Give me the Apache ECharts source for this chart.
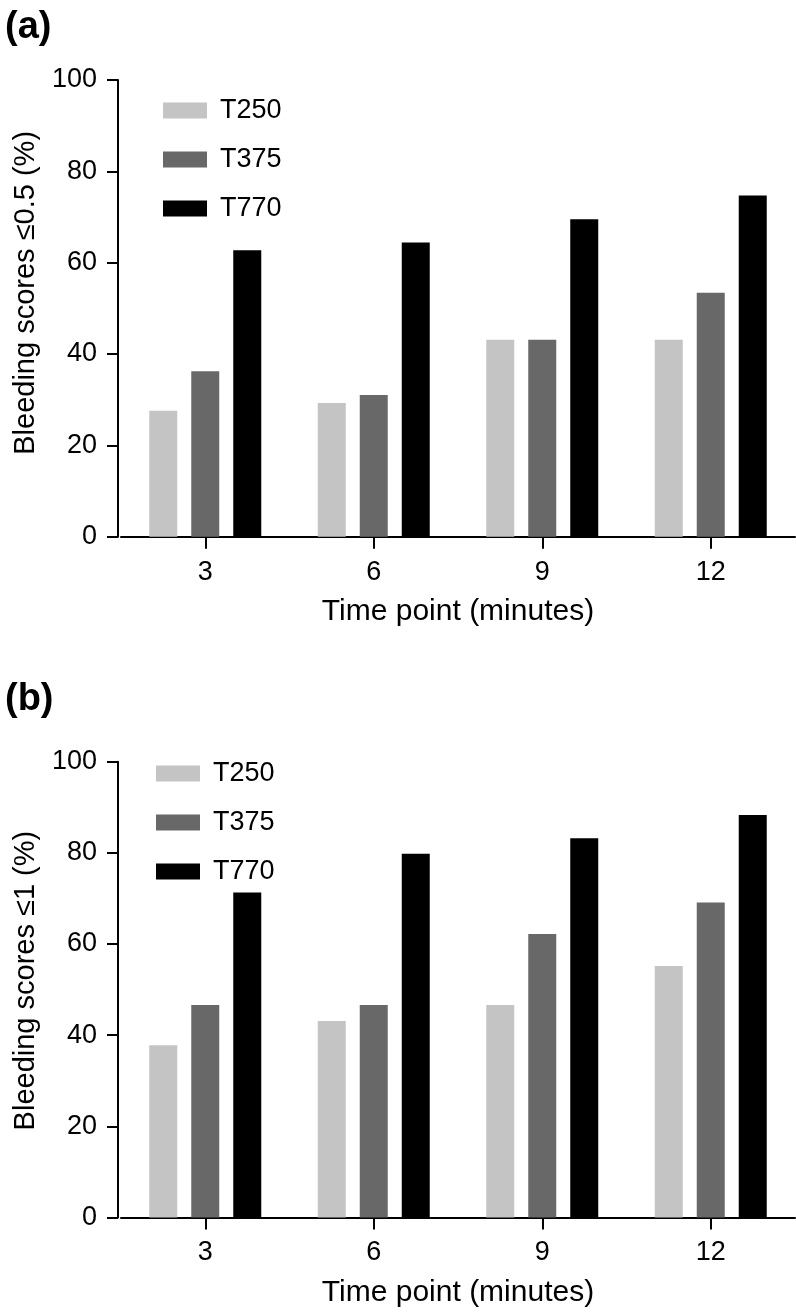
<!DOCTYPE html>
<html>
<head>
<meta charset="utf-8">
<script src="https://cdn.jsdelivr.net/npm/echarts@6/dist/echarts.min.js"></script>
<style>
  html, body { margin: 0; padding: 0; background: #fff; }
  #chart { width: 796px; height: 1316px; }
</style>
</head>
<body>
<div id="chart"></div>
<script>
// ---- data ----
const categories = ['3', '6', '9', '12'];
const seriesNames = ['T250', 'T375', 'T770'];
const seriesColors = ['#c4c4c4', '#686868', '#000000'];
const yTicks = { min: 0, max: 100, interval: 20 };

const panelA_T250 = [27.6, 29.3, 43.1, 43.1];
const panelA_T375 = [36.2, 31.0, 43.1, 53.4];
const panelA_T770 = [62.7, 64.4, 69.5, 74.7];

const panelB_T250 = [37.8, 43.1, 46.6, 55.2];
const panelB_T375 = [46.6, 46.6, 62.2, 69.1];
const panelB_T770 = [71.3, 79.8, 83.2, 88.3];

const panelLabels = ['(a)', '(b)'];
const yNames = ['Bleeding scores \u22640.5 (%)', 'Bleeding scores \u22641 (%)'];
const xName = 'Time point (minutes)';

// ---- chart ----
const FONT = "'Liberation Sans', Arial, Helvetica, sans-serif";
const chart = echarts.init(document.getElementById('chart'), null, { renderer: 'canvas' });

const grids = [
  { left: 121, width: 674, top: 80, height: 456.7 },
  { left: 121, width: 674, top: 761.7, height: 455.8 }
];

function xAxisFor(i) {
  return {
    type: 'category', gridIndex: i, data: categories,
    boundaryGap: true,
    axisLine: { show: true, lineStyle: { color: '#000', width: 2 } },
    axisTick: { show: true, alignWithLabel: true, length: 12, lineStyle: { color: '#000', width: 2 } },
    axisLabel: { color: '#000', fontSize: 27, fontFamily: FONT, margin: 22 },
    name: xName, nameLocation: 'middle', nameGap: 60,
    nameTextStyle: { color: '#000', fontSize: 30, fontFamily: FONT },
    splitLine: { show: false }
  };
}
function yAxisFor(i, shift) {
  return {
    type: 'value', gridIndex: i, min: yTicks.min, max: yTicks.max, interval: yTicks.interval,
    offset: 3,
    axisLine: { show: true, lineStyle: { color: '#000', width: 2 } },
    axisTick: { show: true, length: 11, lineStyle: { color: '#000', width: 2 } },
    axisLabel: { color: '#000', fontSize: 27, fontFamily: FONT, margin: 21 },
    splitLine: { show: false },
    name: yNames[i], nameLocation: 'middle', nameGap: 78, nameRotate: 90,
    nameTextStyle: { color: '#000', fontSize: 29, fontFamily: FONT, padding: [0, 0, 0, shift] }
  };
}

const panelData = [
  [panelA_T250, panelA_T375, panelA_T770],
  [panelB_T250, panelB_T375, panelB_T770]
];

const series = [];
panelData.forEach((arrs, p) => {
  arrs.forEach((vals, s) => {
    series.push({
      type: 'bar', name: seriesNames[s], xAxisIndex: p, yAxisIndex: p,
      data: vals, barWidth: 28, barGap: '50%',
      itemStyle: { color: seriesColors[s] },
      emphasis: { disabled: true }
    });
  });
});

function legendFor(left, top) {
  return {
    orient: 'vertical', left: left, top: top,
    data: seriesNames, icon: 'rect',
    itemWidth: 44, itemHeight: 16, itemGap: 22,
    textStyle: { color: '#000', fontSize: 27, fontFamily: FONT, lineHeight: 27, padding: [0, 0, 0, 8] },
    selectedMode: false
  };
}

chart.setOption({
  animation: false,
  backgroundColor: '#ffffff',
  title: [
    { text: panelLabels[0], left: 0, top: 4, textStyle: { fontSize: 38, fontWeight: 'bold', color: '#000', fontFamily: FONT } },
    { text: panelLabels[1], left: 0, top: 676, textStyle: { fontSize: 38, fontWeight: 'bold', color: '#000', fontFamily: FONT } }
  ],
  legend: [legendFor(158, 92), legendFor(151, 755)],
  grid: grids,
  xAxis: [xAxisFor(0), xAxisFor(1)],
  yAxis: [yAxisFor(0, 31), yAxisFor(1, 18)],
  series: series
});
</script>
</body>
</html>
